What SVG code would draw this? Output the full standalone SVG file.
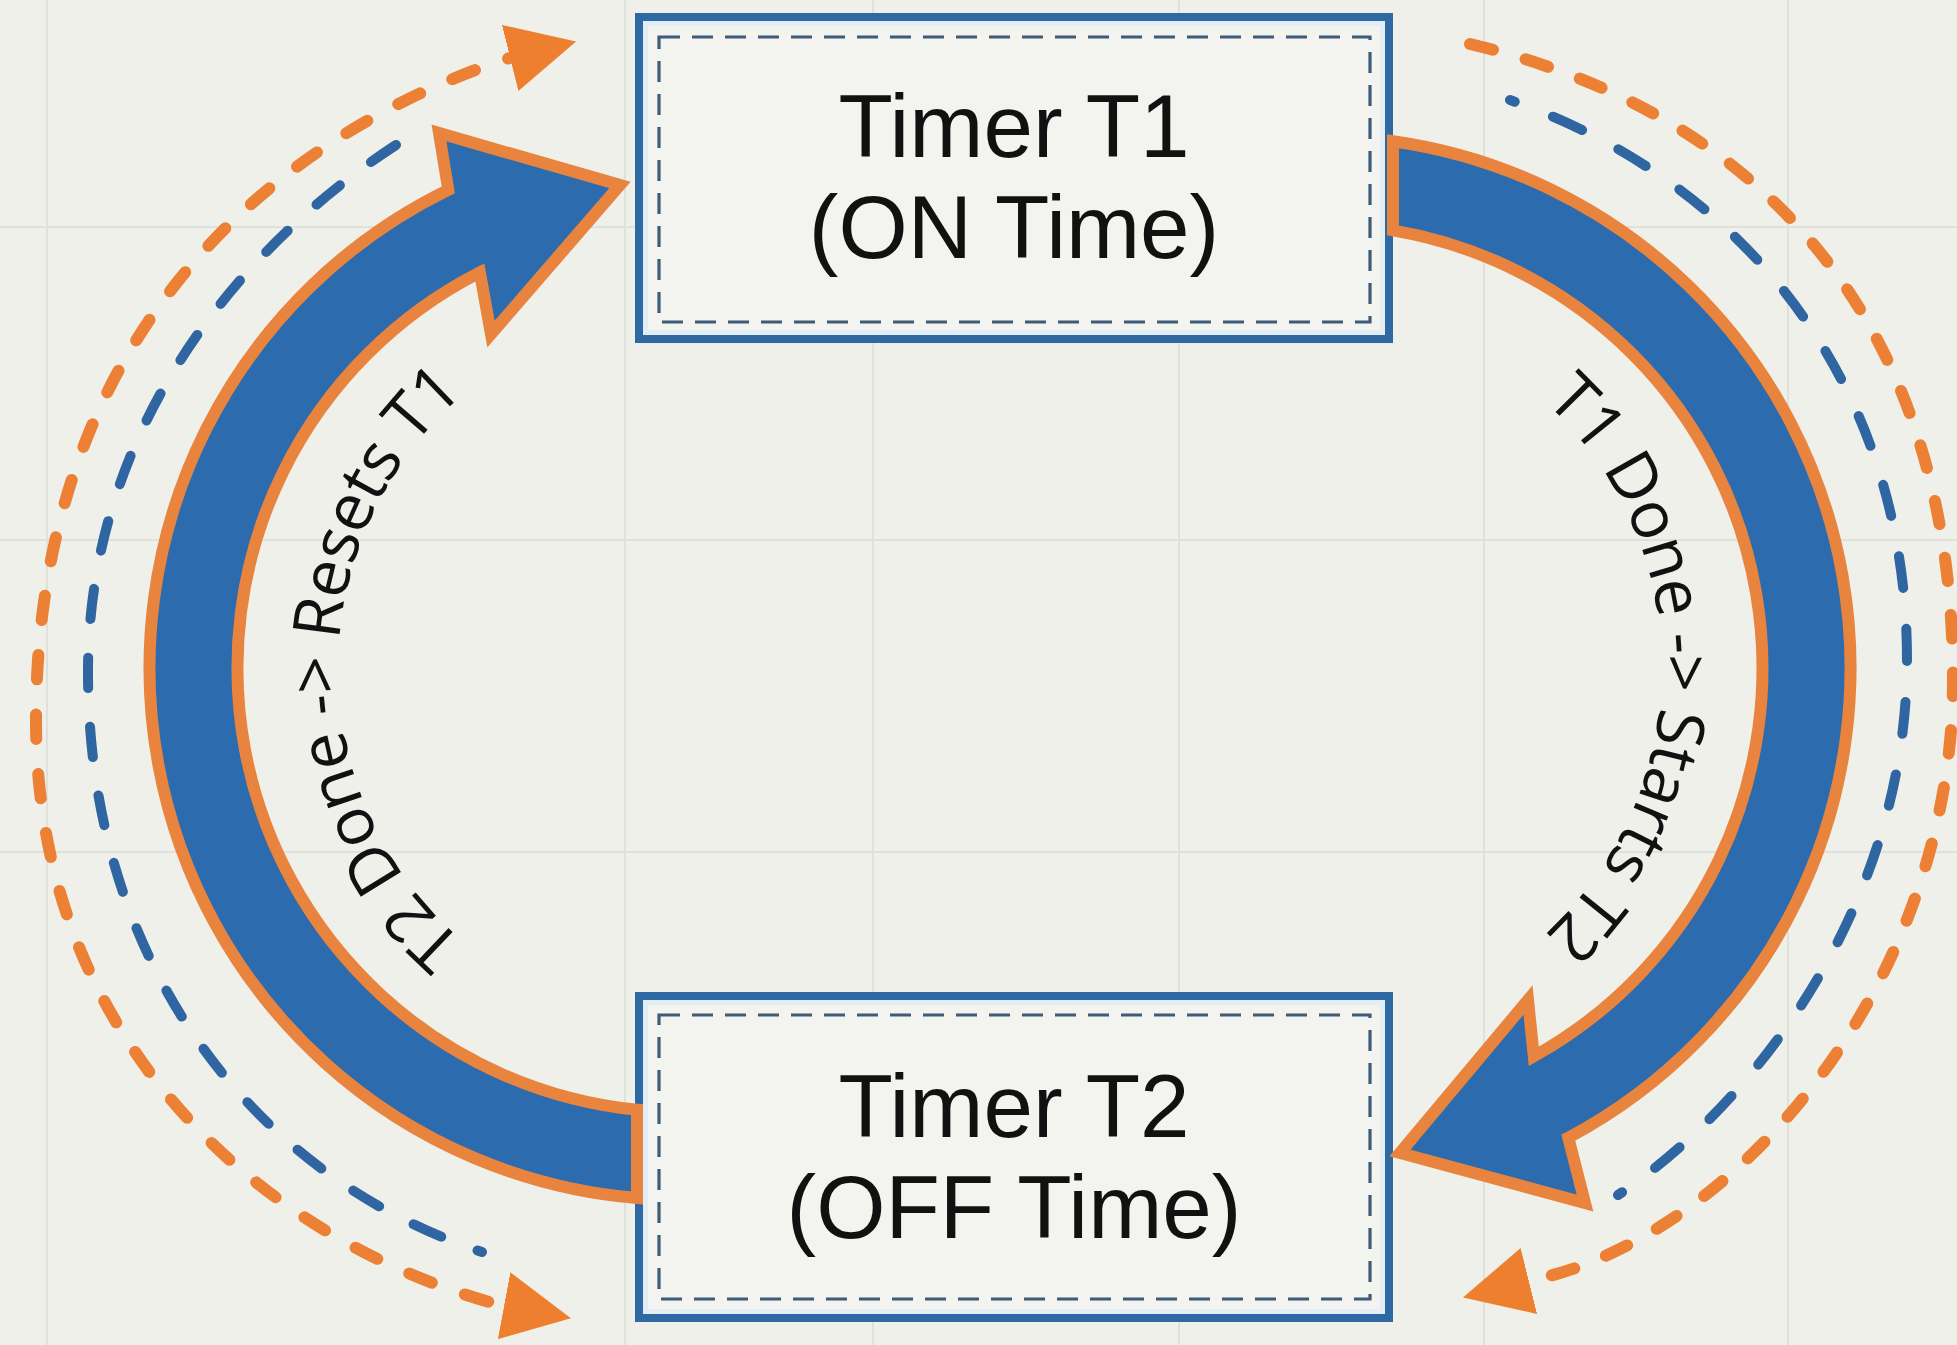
<svg xmlns="http://www.w3.org/2000/svg" width="1957" height="1345" viewBox="0 0 1957 1345">
<defs>
<style>
.bg{fill:#f0f0ea}
.grid line{stroke:#e1e1db;stroke-width:2}
.box{fill:#f3f3ef;stroke:#2f69a3;stroke-width:8}
.boxin{fill:none;stroke:#e2edf6;stroke-width:5}
.boxdash{fill:none;stroke:#3e5c78;stroke-width:3.2;stroke-dasharray:21 12}
.label{font-family:"Liberation Sans",Arial,sans-serif;font-size:89px;fill:#111;text-anchor:middle}
.band{fill:#2c6bae;stroke:#e9843f;stroke-width:12;stroke-linejoin:miter;stroke-miterlimit:12}
.odash{fill:none;stroke:#ec8034;stroke-width:12;stroke-linecap:round;stroke-dasharray:24 34.5}
.bdash{fill:none;stroke:#2f66a2;stroke-width:10;stroke-linecap:round;stroke-dasharray:32 41}
.curve{font-family:"Open Sans","Noto Sans",sans-serif;font-size:66px;letter-spacing:-1px;fill:#111}
</style>
<marker id="oarrow" markerUnits="userSpaceOnUse" viewBox="0 0 70 70" markerWidth="70" markerHeight="70" refX="4" refY="35" orient="auto-start-reverse">
<path d="M0,1 L68,35 L0,69 Z" fill="#ee7f2f"/>
</marker>
<path id="ltp" d="M668.45,1028.6 A362,362 0 0 1 668.45,307.4"/>
<path id="rtp" d="M1331.55,307.4 A362,362 0 0 1 1331.55,1028.6"/>
</defs>
<rect class="bg" x="0" y="0" width="1957" height="1345"/>
<g class="grid">
<line x1="47" y1="0" x2="47" y2="1345"/>
<line x1="625" y1="0" x2="625" y2="1345"/>
<line x1="873" y1="0" x2="873" y2="1345"/>
<line x1="1179" y1="0" x2="1179" y2="1345"/>
<line x1="1484" y1="0" x2="1484" y2="1345"/>
<line x1="1788" y1="0" x2="1788" y2="1345"/>
<line x1="0" y1="227" x2="1957" y2="227"/>
<line x1="0" y1="540" x2="1957" y2="540"/>
<line x1="0" y1="852" x2="1957" y2="852"/>
</g>
<g id="node-t1">
<rect class="box" x="639" y="17" width="750" height="322"/>
<rect class="boxin" x="645.5" y="23.5" width="737" height="309"/>
<rect class="boxdash" x="659" y="37" width="711" height="285"/>
<text class="label" x="1014" y="157">Timer T1</text>
<text class="label" x="1014" y="258">(ON Time)</text>
</g>
<g id="node-t2">
<rect class="box" x="639" y="996" width="750" height="322"/>
<rect class="boxin" x="645.5" y="1002.5" width="737" height="309"/>
<rect class="boxdash" x="659" y="1015" width="711" height="284"/>
<text class="label" x="1014" y="1137">Timer T2</text>
<text class="label" x="1014" y="1238">(OFF Time)</text>
</g>
<g id="connectors">
<g id="t1-to-t2">
<path class="odash" pathLength="1690" marker-end="url(#oarrow)" d="M1470,44 C1780,118 1953,340 1953,680 C1953,980 1740,1235 1533,1280 L1525,1282"/>
<path class="bdash" pathLength="1365" stroke-dashoffset="27" d="M1510,100 C1740,180 1907,380 1907,660 C1907,900 1760,1100 1618,1195"/>
<path class="band" d="M1393,141.2 A532,532 0 0 1 1568.3,1137.7 L1585,1203 L1400,1153 L1528,1000 L1533.8,1056.3 A444,444 0 0 0 1393,230.3 Z"/>
<text class="curve"><textPath href="#rtp" startOffset="50%" text-anchor="middle">T1 Done -&gt; Starts T2</textPath></text>
</g>
<g id="t2-to-t1">
<path class="odash" pathLength="1664" stroke-dashoffset="18" marker-start="url(#oarrow)" marker-end="url(#oarrow)" d="M514,57 L506,59 C250,145 36,355 36,720 C36,1030 250,1237 500,1305 L508,1306.5"/>
<path class="bdash" pathLength="1465" d="M396,145 C250,240 88,420 88,672 C88,960 250,1175 482,1252"/>
<path class="band" d="M637,1198.1 A532,532 0 0 1 448.3,189.8 L439,133 L620,185 L491,334 L479.9,272.4 A444,444 0 0 0 637,1109.8 Z"/>
<text class="curve"><textPath href="#ltp" startOffset="50%" text-anchor="middle">T2 Done -&gt; Resets T1</textPath></text>
</g>
</g>
</svg>
